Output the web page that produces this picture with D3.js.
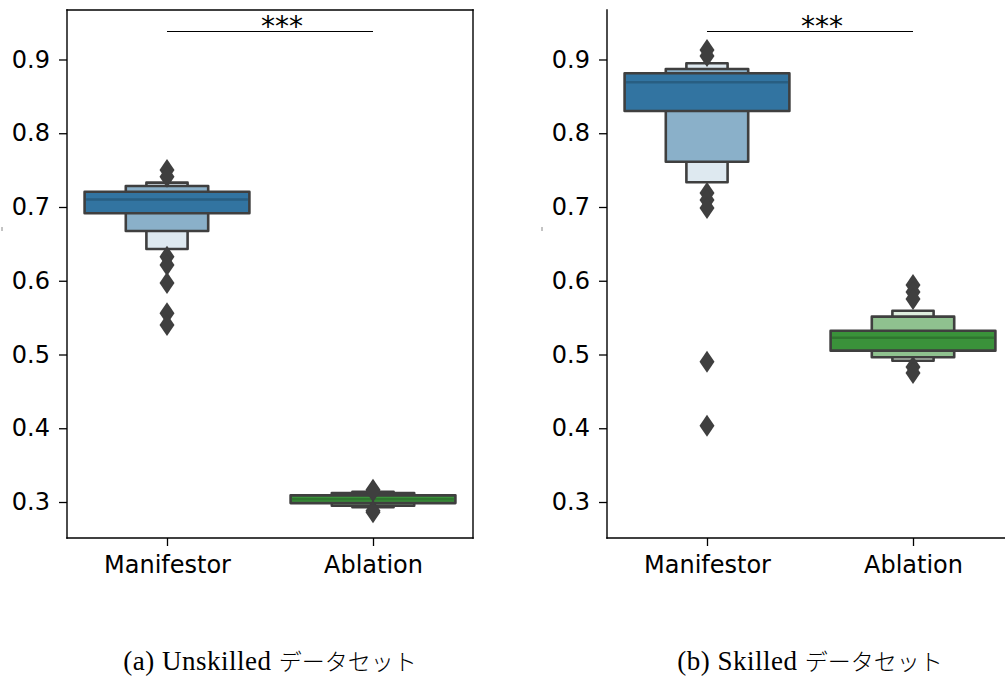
<!DOCTYPE html>
<html>
<head>
<meta charset="utf-8">
<script src="https://cdn.jsdelivr.net/npm/d3@7"></script>
<style>
  body { margin: 0; background: #fff; }
  svg { display: block; }
</style>
</head>
<body>
<div class="container"></div>
<script>
// --- data ---
const categories = ['Manifestor', 'Ablation'];
const yTicks = [0.3, 0.4, 0.5, 0.6, 0.7, 0.8, 0.9];
const captionLatin = ['(a) Unskilled ', '(b) Skilled '];
const captionJa = ['データセット', 'データセット'];
const sigLabel = '***';

// boxen levels, index 0 = widest box (IQR), then outward
const unskilledLow = [[0.6915, 0.6675, 0.6431], [0.2985, 0.2950, 0.2930]];
const unskilledHigh = [[0.7207, 0.7285, 0.7330], [0.3090, 0.3122, 0.3140]];
const unskilledMedian = [0.7102, 0.3037];
const unskilledOutliers = [
  [0.7502, 0.7411, 0.6326, 0.6213, 0.5969, 0.5559, 0.5400],
  [0.3165, 0.3145, 0.2880, 0.2860]
];

const skilledLow = [[0.8302, 0.7614, 0.7335], [0.5052, 0.4962, 0.4916]];
const skilledHigh = [[0.8813, 0.8871, 0.8948], [0.5323, 0.5513, 0.5594]];
const skilledMedian = [0.8691, 0.5228];
const skilledOutliers = [
  [0.9129, 0.9047, 0.7190, 0.7095, 0.6987, 0.4902, 0.4035],
  [0.5942, 0.5847, 0.5753, 0.4831, 0.4749]
];

// --- layout / style ---
const width = 1005;
const height = 677;
const plotTop = 10;
const plotBottom = 538;
const baseColors = ['#3274a1', '#3a923a'];
const levelT = [1, 0.57, 0.16];
const edge = '#3f3f3f';

const panels = [
  { left: 67, right: 473, frame: true, low: unskilledLow, high: unskilledHigh,
    median: unskilledMedian, outliers: unskilledOutliers },
  { left: 607, right: 1013, frame: false, low: skilledLow, high: skilledHigh,
    median: skilledMedian, outliers: skilledOutliers }
];

const svg = d3.select('.container')
  .append('svg')
  .attr('width', width)
  .attr('height', height);

const y = d3.scaleLinear()
  .domain([0.2512, 0.9671])
  .range([plotBottom, plotTop]);

const diamond = 'M0,-11L7.5,0L0,11L-7.5,0Z';

panels.forEach((p, pi) => {
  const x = d3.scalePoint()
    .domain(categories)
    .range([p.left, p.right])
    .padding(0.4854);
  const boxW = x.step() * 0.8;

  const g = svg.append('g');

  // boxes
  categories.forEach((cat, ci) => {
    const cx = x(cat);
    const base = baseColors[ci];
    const nLev = p.low[ci].length;
    for (let lev = nLev - 1; lev >= 0; lev--) {
      const w = boxW * Math.pow(0.5, lev);
      g.append('rect')
        .attr('x', cx - w / 2)
        .attr('y', y(p.high[ci][lev]))
        .attr('width', w)
        .attr('height', y(p.low[ci][lev]) - y(p.high[ci][lev]))
        .attr('fill', d3.interpolateRgb('#ffffff', base)(levelT[lev]))
        .attr('stroke', edge)
        .attr('stroke-width', 2.6)
        .attr('stroke-linejoin', 'round');
    }
    g.append('line')
      .attr('x1', cx - boxW / 2 + 1.5)
      .attr('x2', cx + boxW / 2 - 1.5)
      .attr('y1', y(p.median[ci]))
      .attr('y2', y(p.median[ci]))
      .attr('stroke', d3.color(base).darker(0.6))
      .attr('stroke-width', 2.4);

    g.selectAll(null)
      .data(p.outliers[ci])
      .enter()
      .append('path')
      .attr('d', diamond)
      .attr('transform', d => `translate(${cx},${y(d)})`)
      .attr('fill', edge);
  });

  // axes
  const yAxis = g.append('g')
    .attr('transform', `translate(${p.left},0)`)
    .call(d3.axisLeft(y).tickValues(yTicks).tickFormat(d3.format('.1f'))
      .tickSize(8).tickPadding(9));
  yAxis.select('.domain').remove();

  const xAxis = g.append('g')
    .attr('transform', `translate(0,${plotBottom})`)
    .call(d3.axisBottom(x).tickSize(8).tickPadding(10));
  xAxis.select('.domain').remove();

  [yAxis, xAxis].forEach(ax => {
    ax.selectAll('text')
      .attr('font-family', 'DejaVu Sans')
      .attr('font-size', 24)
      .attr('fill', '#000');
    ax.selectAll('line').attr('stroke', '#000').attr('stroke-width', 1.3);
  });

  // spines
  const spine = [[p.left, plotTop, p.left, plotBottom], [p.left, plotBottom, p.right, plotBottom]];
  if (p.frame) {
    spine.push([p.left, plotTop, p.right, plotTop], [p.right, plotTop, p.right, plotBottom]);
  }
  spine.forEach(s => {
    g.append('line')
      .attr('x1', s[0]).attr('y1', s[1]).attr('x2', s[2]).attr('y2', s[3])
      .attr('stroke', '#000').attr('stroke-width', 1.4)
      .attr('stroke-linecap', 'square');
  });

  // empty y label remnant
  g.append('line')
    .attr('x1', p.left - 65).attr('x2', p.left - 65)
    .attr('y1', 227).attr('y2', 231)
    .attr('stroke', '#888').attr('stroke-width', 1);

  // significance bar
  g.append('line')
    .attr('x1', x(categories[0])).attr('x2', x(categories[1]))
    .attr('y1', 31.5).attr('y2', 31.5)
    .attr('stroke', '#000').attr('stroke-width', 1.2);
  g.append('text')
    .attr('x', (x(categories[0]) + x(categories[1])) / 2 + 12)
    .attr('y', 36)
    .attr('text-anchor', 'middle')
    .attr('font-family', 'DejaVu Sans')
    .attr('font-size', 28)
    .text(sigLabel);

  // caption
  const cap = svg.append('text')
    .attr('x', (p.left + p.right) / 2)
    .attr('y', 670)
    .attr('text-anchor', 'middle');
  cap.append('tspan')
    .attr('font-family', 'Liberation Serif')
    .attr('font-size', 27)
    .attr('letter-spacing', 0.5)
    .text(captionLatin[pi]);
  cap.append('tspan')
    .attr('font-family', 'Noto Sans CJK JP')
    .attr('font-weight', 300)
    .attr('font-size', 23)
    .text(captionJa[pi]);
});
</script>
</body>
</html>
